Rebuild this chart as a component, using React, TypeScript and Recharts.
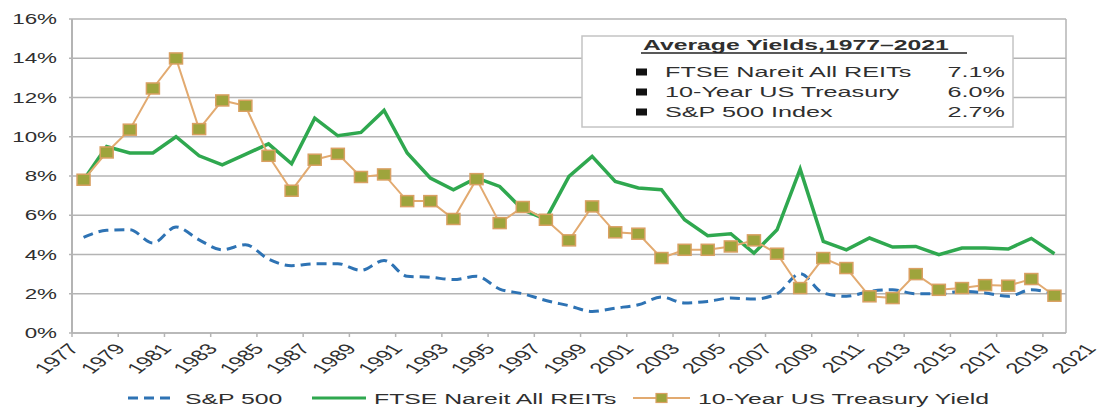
import React from "react";
import { CartesianGrid, Line, LineChart, ReferenceLine, XAxis, YAxis } from "recharts";

const years = [
  1977, 1978, 1979, 1980, 1981, 1982, 1983, 1984, 1985, 1986, 1987, 1988, 1989, 1990, 1991,
  1992, 1993, 1994, 1995, 1996, 1997, 1998, 1999, 2000, 2001, 2002, 2003, 2004, 2005, 2006,
  2007, 2008, 2009, 2010, 2011, 2012, 2013, 2014, 2015, 2016, 2017, 2018, 2019,
];

const sp500 = [
  4.87, 5.23, 5.26, 4.58, 5.4, 4.75, 4.24, 4.5, 3.77, 3.43, 3.53, 3.53, 3.19, 3.7, 2.89,
  2.84, 2.72, 2.89, 2.24, 2.0, 1.66, 1.39, 1.1, 1.27, 1.44, 1.83, 1.53, 1.61, 1.78, 1.73,
  2.0, 3.02, 2.04, 1.87, 2.12, 2.2, 2.0, 2.0, 2.12, 2.04, 1.87, 2.2, 2.0,
];

const reits = [
  7.8, 9.5, 9.17, 9.17, 10.0, 9.03, 8.57, 9.1, 9.64, 8.62, 10.95, 10.05, 10.22, 11.34, 9.17,
  7.9, 7.3, 7.9, 7.47, 6.28, 5.8, 7.98, 9.0, 7.72, 7.39, 7.3, 5.77, 4.96, 5.06, 4.07,
  5.26, 8.35, 4.67, 4.24, 4.84, 4.38, 4.41, 3.99, 4.33, 4.33, 4.28, 4.82, 4.04,
];

const treasury = [
  7.81, 9.2, 10.36, 12.46, 13.99, 10.39, 11.85, 11.58, 9.03, 7.25, 8.83, 9.13, 7.95, 8.08, 6.72,
  6.72, 5.81, 7.84, 5.6, 6.42, 5.77, 4.72, 6.45, 5.13, 5.06, 3.82, 4.24, 4.24, 4.41, 4.72,
  4.04, 2.29, 3.82, 3.31, 1.87, 1.78, 3.0, 2.2, 2.29, 2.44, 2.41, 2.75, 1.9,
];

const xTicks = [
  1977, 1979, 1981, 1983, 1985, 1987, 1989, 1991, 1993, 1995, 1997, 1999, 2001, 2003, 2005,
  2007, 2009, 2011, 2013, 2015, 2017, 2019,
];
const extraXLabel = "2021";
const yTicks = [0, 2, 4, 6, 8, 10, 12, 14, 16];

const averageTitle = "Average Yields,1977–2021";
const averageNames = ["FTSE Nareit All REITs", "10-Year US Treasury", "S&P 500 Index"];
const averageValues = ["7.1%", "6.0%", "2.7%"];

const FONT = '"Liberation Sans", Arial, Helvetica, sans-serif';
const WIDTH = 1103;
const HEIGHT = 410;
const margin = { top: 19, right: 37, bottom: 0, left: 0 };
const yAxisWidth = 72;
const xAxisHeight = 77;
const xDomain: [number, number] = [1977, 2020];
const pxPerYear =
  (WIDTH - margin.right - margin.left - yAxisWidth) / (xDomain[1] - xDomain[0]);

const GRID = "#b4b4b4";
const TEXT = "#2f2f2f";
const BLUE = "#2e73b4";
const GREEN = "#2fa84f";
const TAN = "#e2aa70";
const OLIVE = "#9ea43c";

const data = years.map((year, i) => ({
  year,
  x: year + 0.5,
  sp500: sp500[i],
  reits: reits[i],
  treasury: treasury[i],
}));

// glyphs in the source are stretched sideways, so text is scaled on x
const Stretched = ({
  x,
  y,
  sx = 1.6,
  rotate = 0,
  anchor = "start",
  size = 14,
  bold = false,
  children,
}: {
  x: number;
  y: number;
  sx?: number;
  rotate?: number;
  anchor?: "start" | "end" | "middle";
  size?: number;
  bold?: boolean;
  children: React.ReactNode;
}) => (
  <g transform={`translate(${x},${y}) scale(${sx},1) rotate(${rotate})`}>
    <text
      x={0}
      y={0}
      textAnchor={anchor}
      fontSize={size}
      fontFamily={FONT}
      fontWeight={bold ? 700 : 400}
      fill={TEXT}
    >
      {children}
    </text>
  </g>
);

const XTick = (props: any) => {
  const { x, y, payload } = props;
  const isLast = payload.value === xTicks[xTicks.length - 1];
  return (
    <g>
      <Stretched x={x + 8} y={y + 10} rotate={-50} anchor="end" size={15}>
        {String(payload.value)}
      </Stretched>
      {isLast ? (
        <Stretched x={x + 8 + 2 * pxPerYear} y={y + 10} rotate={-50} anchor="end" size={15}>
          {extraXLabel}
        </Stretched>
      ) : null}
    </g>
  );
};

const YTick = (props: any) => {
  const { x, y, payload } = props;
  return (
    <Stretched x={x} y={y + 5} anchor="end">
      {`${payload.value}%`}
    </Stretched>
  );
};

const SquareDot = (props: any) => {
  const { cx, cy, index } = props;
  if (cx == null || cy == null) return null;
  return (
    <rect
      key={`sq-${index}`}
      x={cx - 6.5}
      y={cy - 5.5}
      width={13}
      height={11}
      fill={OLIVE}
      stroke="#d9a062"
      strokeWidth={1.5}
    />
  );
};

const AverageBox = () => {
  const rowY = [72, 92, 112];
  return (
    <g>
      <rect x={582} y={36} width={431} height={91} fill="#fff" stroke="#c4c4c4" strokeWidth={1.5} />
      <Stretched x={643} y={50} sx={1.65} size={15} bold>
        {averageTitle}
      </Stretched>
      <line x1={641} x2={967} y1={53} y2={53} stroke="#222" strokeWidth={1.3} />
      {averageNames.map((name, i) => (
        <g key={name}>
          <rect x={636} y={rowY[i] - 3.5} width={11} height={7} fill="#111" />
          <Stretched x={665} y={rowY[i] + 5} sx={1.68} size={15}>
            {name}
          </Stretched>
          <Stretched x={1005} y={rowY[i] + 5} sx={1.68} size={15} anchor="end">
            {averageValues[i]}
          </Stretched>
        </g>
      ))}
    </g>
  );
};

const BottomLegend = () => {
  const cy = 398;
  const base = cy + 6;
  return (
    <g>
      <line x1={128} x2={170} y1={cy} y2={cy} stroke={BLUE} strokeWidth={3} strokeDasharray="10 6" />
      <Stretched x={185} y={base} size={15.5}>S&amp;P 500</Stretched>
      <line x1={312} x2={366} y1={cy} y2={cy} stroke={GREEN} strokeWidth={3} />
      <Stretched x={374} y={base} size={15.5}>FTSE Nareit All REITs</Stretched>
      <line x1={633} x2={690} y1={cy} y2={cy} stroke={TAN} strokeWidth={2} />
      <rect x={656} y={cy - 4.5} width={11} height={9} fill={OLIVE} stroke="#d9a062" strokeWidth={1.2} />
      <Stretched x={698} y={base} size={15.5}>10-Year US Treasury Yield</Stretched>
    </g>
  );
};

export default function App() {
  return (
    <div style={{ position: "fixed", left: 0, top: 0, width: WIDTH, height: HEIGHT, background: "#fff" }}>
      <LineChart width={WIDTH} height={HEIGHT} data={data} margin={margin}>
        <CartesianGrid vertical={false} stroke={GRID} strokeWidth={1.5} />
        <XAxis
          dataKey="x"
          type="number"
          domain={xDomain}
          ticks={xTicks}
          interval={0}
          height={xAxisHeight}
          axisLine={{ stroke: GRID, strokeWidth: 1.5 }}
          tickLine={{ stroke: GRID, strokeWidth: 1.5 }}
          tickSize={4}
          tickMargin={2}
          tick={<XTick />}
        />
        <YAxis
          width={yAxisWidth}
          domain={[0, 16]}
          ticks={yTicks}
          interval={0}
          axisLine={{ stroke: GRID, strokeWidth: 2 }}
          tickLine={{ stroke: GRID, strokeWidth: 1.5 }}
          tickSize={3}
          tickMargin={12}
          tick={<YTick />}
        />
        <ReferenceLine x={xDomain[1]} stroke={GRID} strokeWidth={1.5} />
        <Line
          dataKey="sp500"
          type="monotone"
          stroke={BLUE}
          strokeWidth={3}
          strokeDasharray="10 6"
          dot={false}
          activeDot={false}
          isAnimationActive={false}
        />
        <Line
          dataKey="reits"
          type="linear"
          stroke={GREEN}
          strokeWidth={3.5}
          dot={false}
          activeDot={false}
          isAnimationActive={false}
        />
        <Line
          dataKey="treasury"
          type="linear"
          stroke={TAN}
          strokeWidth={2}
          dot={<SquareDot />}
          activeDot={false}
          isAnimationActive={false}
        />
      </LineChart>
      <svg
        width={WIDTH}
        height={HEIGHT}
        style={{ position: "absolute", left: 0, top: 0, pointerEvents: "none" }}
      >
        <AverageBox />
        <BottomLegend />
      </svg>
    </div>
  );
}
